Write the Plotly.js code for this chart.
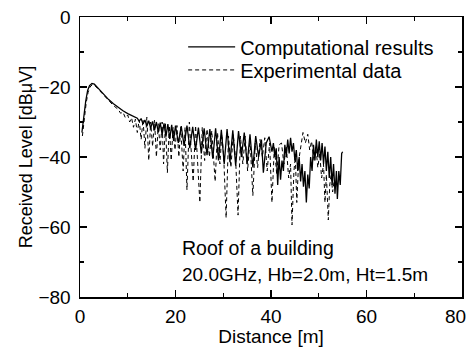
<!DOCTYPE html>
<html>
<head>
<meta charset="utf-8">
<script src="https://cdn.plot.ly/plotly-3.0.1.min.js"></script>
<style>html,body{margin:0;padding:0;background:#fff;}#chart{width:467px;height:347px;}</style>
</head>
<body>
<div id="chart"></div>
<script>
// Computational results (solid)
var compX = [0.4,0.8,1.2,1.6,2.0,2.5,3.0,3.5,4,5,6,7,8,9,10,11,12,
  12.4,12.8,13.2,13.6,14.0,14.4,14.8,15.2,15.6,16.0,16.4,16.8,17.2,17.6,18.0,18.4,18.8,19.2,19.6,20.0,
  20.6,21.2,21.8,22.4,23.0,23.6,24.2,24.8,25.4,26.0,26.6,27.2,27.8,28.4,29.0,29.6,30.2,30.8,31.4,32.0,32.6,33.2,33.8,34.4,35.0,35.6,36.2,36.8,37.4,38.0,38.4,39.0,39.6,40.2,
  40.5,40.8,41.1,41.4,41.7,42.0,42.3,42.6,42.9,43.2,43.5,43.8,44.1,44.4,44.7,45.0,45.3,45.6,45.9,46.2,46.5,46.8,47.1,47.4,47.7,48.0,48.3,48.6,48.9,49.2,49.5,49.8,50.1,50.4,50.7,51.0,51.3,51.6,51.9,52.2,52.5,52.8,53.1,53.4,53.7,53.9,54.2,54.5,54.8,55.0];
var compY = [-33,-28,-24,-21,-19.6,-19.0,-19.2,-19.9,-20.7,-22.2,-23.6,-24.8,-25.9,-26.8,-27.6,-28.3,-28.9,
  -29.8,-29.0,-30.6,-29.4,-31.2,-29.6,-31.8,-29.8,-32.4,-30.0,-33.0,-30.2,-33.6,-30.4,-34.2,-30.6,-34.8,-30.8,-35.4,-31.0,
  -36.0,-31.2,-36.8,-31.0,-37.5,-31.4,-38.0,-31.6,-39.0,-31.8,-39.5,-32.0,-40.5,-31.8,-41.0,-32.2,-42.0,-32.0,-41.5,-32.4,-42.5,-32.6,-40.0,-33.0,-42.0,-33.5,-43.0,-34.0,-40.0,-35.0,-44.5,-36.0,-34.2,-38.5,
  -36.0,-40.0,-37.5,-48.0,-40.0,-46.5,-41.0,-44.0,-36.5,-40.0,-35.0,-39.0,-34.5,-38.5,-36.0,-41.0,-38.0,-44.0,-40.0,-47.0,-42.0,-48.5,-44.0,-53.0,-45.0,-49.0,-40.0,-44.0,-36.5,-41.0,-35.0,-40.0,-35.5,-41.0,-36.0,-42.0,-37.0,-44.0,-38.5,-46.0,-40.0,-48.0,-42.0,-50.5,-44.0,-52.0,-44.0,-48.0,-39.0,-38.5];

// Experimental data (dashed)
var expX = [0.5,0.9,1.3,1.7,2.1,2.6,3.1,3.6,4.2,5,6,7,8,8.5,9,9.5,10,10.4,10.8,11.2,11.6,12.0,12.4,12.8,13.2,13.6,14.0,14.4,14.8,15.2,15.6,16.0,16.4,16.8,17.2,17.5,17.9,18.3,18.7,19.1,19.5,19.9,
  20.3,20.7,21.1,21.6,22.0,22.4,22.9,23.3,23.7,24.2,24.7,25.1,25.6,26.1,26.6,27.1,27.6,28.3,28.8,29.3,29.7,30.1,30.6,31.1,31.6,32.1,32.6,33.1,33.6,34.1,34.6,35.1,35.6,36.2,36.7,37.2,37.7,38.2,38.7,39.2,39.7,40.2,40.7,41.2,41.7,42.2,42.7,43.2,43.7,44.1,44.4,44.8,45.1,45.4,45.8,46.2,46.7,47.2,47.7,48.1,48.5,49.0,49.4,49.8,50.2,50.6,51.0,51.3,51.6,52.0,52.3,52.6,52.9,53.2];
var expY = [-34,-29,-24.5,-21.5,-20.0,-19.3,-19.6,-20.3,-21.2,-22.6,-24.0,-25.3,-26.4,-27.5,-27.2,-28.8,-28.0,-30.0,-28.8,-31.5,-29.2,-33.0,-29.4,-35.0,-29.2,-37.5,-28.6,-41.0,-30.0,-37.0,-29.5,-40.0,-30.5,-38.0,-30.0,-42.0,-30.5,-44.5,-31.0,-41.0,-31.5,-38.0,
  -31.0,-40.0,-31.5,-44.0,-31.5,-49.4,-30.0,-40.0,-47.0,-31.0,-42.0,-53.0,-31.5,-41.0,-32.0,-40.0,-32.5,-47.0,-33.0,-42.0,-33.5,-40.0,-57.4,-34.0,-43.0,-33.5,-41.0,-56.6,-34.0,-42.0,-34.0,-44.0,-35.0,-51.0,-36.0,-43.0,-35.0,-40.0,-34.5,-44.0,-36.0,-53.0,-37.0,-45.0,-36.5,-36.0,-42.0,-37.0,-46.0,-42.0,-59.4,-44.0,-40.0,-53.0,-41.0,-37.0,-33.0,-36.0,-33.5,-38.0,-35.5,-41.0,-37.0,-43.0,-39.0,-46.0,-42.0,-53.0,-45.0,-58.0,-48.0,-45.0,-50.0,-47.0];

var seriesNames = ['Computational results', 'Experimental data'];
var xTicks = [0, 20, 40, 60, 80];
var yTicks = [-80, -60, -40, -20, 0];
var noteLines = ['Roof of a building', '20.0GHz, Hb=2.0m, Ht=1.5m'];

var FONT = 'Liberation Sans, Arial, sans-serif';

var traces = [
  {x: compX, y: compY, mode: 'lines', name: seriesNames[0], legend: 'legend',
   line: {color: '#000', width: 1.3}},
  {x: expX, y: expY, mode: 'lines', name: seriesNames[1], legend: 'legend2',
   line: {color: '#000', width: 1, dash: '4px,3px'}}
];

var axisCommon = {
  showline: true, linecolor: '#000', linewidth: 1.5, mirror: 'ticks',
  ticks: 'inside', ticklen: 7, tickwidth: 1.2, tickcolor: '#000',
  showgrid: false, zeroline: false, tickmode: 'array',
  tickfont: {family: FONT, size: 19, color: '#000'},
  minor: {dtick: 10, ticks: 'inside', ticklen: 4, tickwidth: 1.2, tickcolor: '#000', showgrid: false}
};

var legendCommon = {xanchor: 'left', yanchor: 'middle', bgcolor: 'rgba(0,0,0,0)',
  font: {family: FONT, size: 20, color: '#000'}, itemwidth: 47};

// the last x tick label sits at the right page edge; draw it shifted inward
var lastX = xTicks[xTicks.length - 1];

var layout = {
  width: 467, height: 347,
  margin: {l: 80, r: 5, t: 17, b: 50},
  paper_bgcolor: '#fff', plot_bgcolor: '#fff',
  font: {family: FONT, size: 19, color: '#000'},
  showlegend: true,
  legend: Object.assign({}, legendCommon, {x: 0.27, y: 0.893}),
  legend2: Object.assign({}, legendCommon, {x: 0.27, y: 0.811}),
  xaxis: Object.assign({}, axisCommon, {
    range: [0, 80], tickvals: xTicks,
    ticktext: xTicks.map(function(v){ return v === lastX ? '' : String(v); }),
    ticklabelstandoff: 2,
    title: {text: 'Distance [m]', font: {family: FONT, size: 19, color: '#000'}, standoff: 2}
  }),
  yaxis: Object.assign({}, axisCommon, {
    range: [-80, 0], tickvals: yTicks,
    ticktext: yTicks.map(function(v){ return v < 0 ? '\u2212' + Math.abs(v) : String(v); }),
    ticklabelstandoff: 4, ticklabeloverflow: 'allow',
    title: {text: 'Received Level [dB\u03bcV]', font: {family: FONT, size: 18, color: '#000'}, standoff: 1}
  }),
  annotations: [
    {xref: 'x', yref: 'y', x: 21.0, y: -66, text: noteLines[0], showarrow: false,
     xanchor: 'left', yanchor: 'middle', font: {family: FONT, size: 19.5, color: '#000'}},
    {xref: 'x', yref: 'y', x: 21.0, y: -73.7, text: noteLines[1], showarrow: false,
     xanchor: 'left', yanchor: 'middle', font: {family: FONT, size: 19, color: '#000'}},
    {xref: 'x', yref: 'paper', x: lastX, y: 0, text: String(lastX), showarrow: false,
     xanchor: 'right', yanchor: 'middle', xshift: 5, yshift: -19, borderpad: 0,
     font: {family: FONT, size: 19, color: '#000'}}
  ]
};

Plotly.newPlot('chart', traces, layout, {displayModeBar: false, staticPlot: true});
</script>
</body>
</html>
